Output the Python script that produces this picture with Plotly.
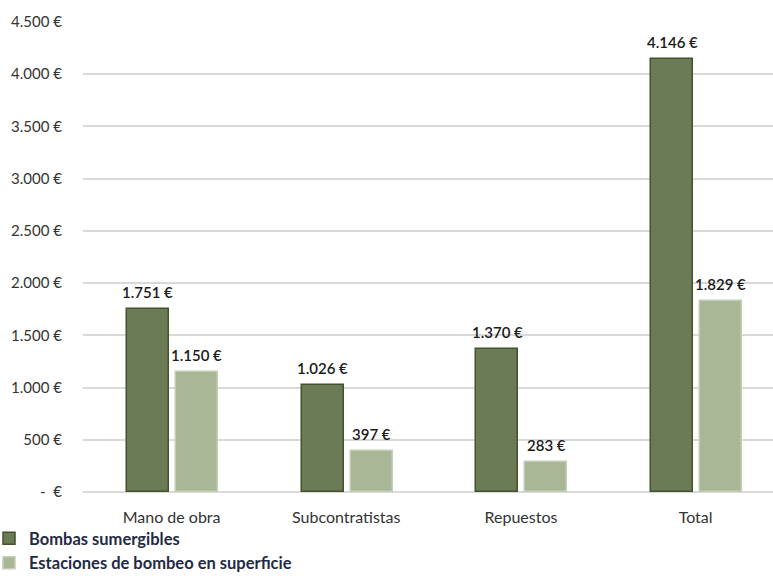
import plotly.graph_objects as go

categories = ["Mano de obra", "Subcontratistas", "Repuestos", "Total"]
bombas = [1751, 1026, 1370, 4146]
estaciones = [1150, 397, 283, 1829]
series_names = ["Bombas sumergibles", "Estaciones de bombeo en superficie"]
y_ticks = [0, 500, 1000, 1500, 2000, 2500, 3000, 3500, 4000, 4500]
y_ticktext = ["-  €", "500 €", "1.000 €", "1.500 €", "2.000 €", "2.500 €",
              "3.000 €", "3.500 €", "4.000 €", "4.500 €"]

def fmt(v):
    return f"{v:,}".replace(",", ".") + " €"

xs = list(range(len(categories)))
W = 0.24
OFF_A = -0.255
OFF_B = 0.025
FONT = "Lato, 'Open Sans', sans-serif"

fig = go.Figure()
fig.add_trace(go.Bar(
    x=xs, y=bombas, name=series_names[0], width=W, offset=OFF_A,
    marker=dict(color="#6b7b55", line=dict(color="#44522f", width=1.5)),
))
fig.add_trace(go.Bar(
    x=xs, y=estaciones, name=series_names[1], width=W, offset=OFF_B,
    marker=dict(color="#aab796", line=dict(color="#c4cdb6", width=1.5)),
))

for i in xs:
    fig.add_annotation(x=i + OFF_A + W / 2, y=bombas[i], text=fmt(bombas[i]),
                       showarrow=False, yanchor="bottom", yshift=6,
                       font=dict(size=15, color="#1a1a1a", family=FONT, weight=600))
    fig.add_annotation(x=i + OFF_B + W / 2, y=estaciones[i], text=fmt(estaciones[i]),
                       showarrow=False, yanchor="bottom", yshift=6,
                       font=dict(size=15, color="#1a1a1a", family=FONT, weight=600))

fig.update_layout(
    width=773, height=576,
    margin=dict(l=83, r=0, t=22, b=84, autoexpand=False),
    paper_bgcolor="white", plot_bgcolor="white",
    font=dict(family=FONT, size=15, color="#333333"),
    showlegend=True,
    legend=dict(orientation="v",
                x=-83 / 690, xanchor="left", y=-88 / 470, yanchor="bottom",
                indentation=-11,
                font=dict(size=16.5, color="#1f2a44", family=FONT, weight="bold"),
                tracegroupgap=0, bgcolor="rgba(0,0,0,0)"),
    bargap=0.0,
)
fig.update_xaxes(
    range=[-0.507, 3.443], tickvals=xs, ticktext=categories,
    showgrid=False, zeroline=False, showline=False, ticks="",
    tickangle=0, ticklabelstandoff=14, tickfont=dict(size=16, color="#333333"),
)
fig.update_yaxes(
    range=[0, 4500], tickvals=y_ticks, ticktext=y_ticktext,
    showgrid=True, gridcolor="#d9d9d9", gridwidth=1.5,
    zeroline=True, zerolinecolor="#d9d9d9", zerolinewidth=1.5,
    showline=False, ticks="", ticklabelstandoff=20,
    tickfont=dict(size=15, color="#333333"),
)

fig.write_html("out.html")
